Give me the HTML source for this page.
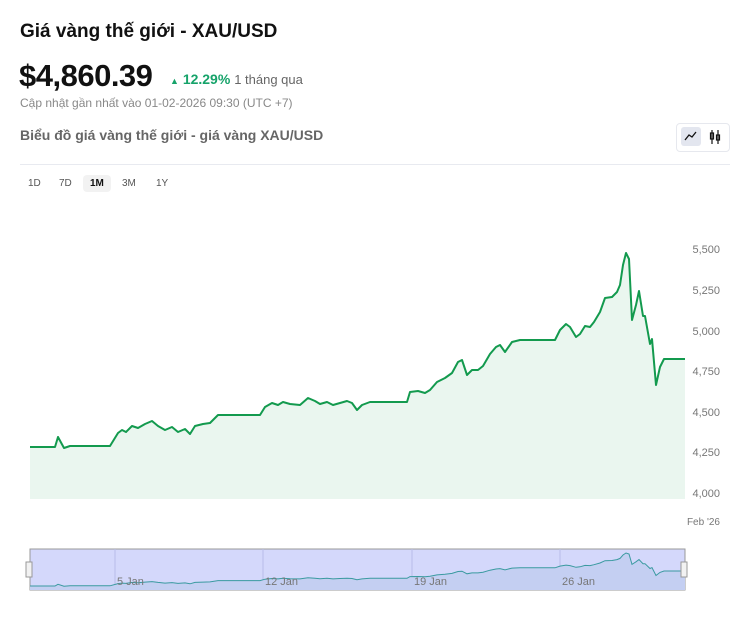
<!DOCTYPE html><html><head><meta charset="utf-8"><style>
body{margin:0;width:750px;height:634px;background:#fff;font-family:"Liberation Sans","Noto Sans CJK SC",sans-serif;position:relative;overflow:hidden}
.a{position:absolute;white-space:nowrap}
</style></head><body>
<div class="a" style="left:20px;top:21px;font-size:19px;font-weight:bold;color:#111">Giá vàng thế giới - XAU/USD</div>
<div class="a" style="left:19px;top:58px;font-size:31px;font-weight:bold;color:#111;letter-spacing:-0.5px">$4,860.39</div>
<div class="a" style="left:170px;top:71px;font-size:14px;color:#16a36a"><span style="font-size:9px">▲</span> <b>12.29%</b> <span style="color:#666;font-size:13px">1 tháng qua</span></div>
<div class="a" style="left:20px;top:96px;font-size:12px;color:#888">Cập nhật gần nhất vào 01-02-2026 09:30 (UTC +7)</div>
<div class="a" style="left:20px;top:127px;font-size:14px;color:#666;font-weight:bold">Biểu đồ giá vàng thế giới - giá vàng XAU/USD</div>
<div class="a" style="left:676px;top:123px;width:52px;height:27px;border:1px solid #e6e8ee;border-radius:4px"></div>
<div class="a" style="left:681px;top:127px;width:20px;height:19px;background:#e3e6ef;border-radius:3px"></div>
<svg class="a" style="left:0;top:0" width="750" height="634">
<path d="M685,140 L689,135 L692,137 L696,132" fill="none" stroke="#111" stroke-width="1.3"/>
<g stroke="#111" stroke-width="1.2" fill="none"><line x1="712" y1="130" x2="712" y2="144"/><rect x="710.5" y="133" width="3" height="6"/><line x1="718" y1="130" x2="718" y2="144"/><rect x="716.5" y="135" width="3" height="5"/></g>
<line x1="20" y1="164.5" x2="730" y2="164.5" stroke="#e8eaf0"/>
<g font-size="11" fill="#777" text-anchor="end" font-family="Liberation Sans">
<text x="720" y="253">5,500</text><text x="720" y="294">5,250</text><text x="720" y="335">5,000</text><text x="720" y="375">4,750</text><text x="720" y="416">4,500</text><text x="720" y="456">4,250</text><text x="720" y="497">4,000</text>
<text x="720" y="525" font-size="10">Feb '26</text></g>
<path id="fill" fill="#eaf6ef"/><path id="line" fill="none" stroke="#139a4e" stroke-width="2" stroke-linejoin="round"/>
<rect x="30" y="549" width="655" height="41" fill="#d4d8fb" stroke="#999" stroke-width="1"/>
<g stroke="#b8bde8" stroke-width="1"><line x1="115" y1="549" x2="115" y2="590"/><line x1="263" y1="549" x2="263" y2="590"/><line x1="412" y1="549" x2="412" y2="590"/><line x1="560" y1="549" x2="560" y2="590"/></g>
<path id="nfill" fill="#c4cff2"/><path id="nline" fill="none" stroke="#3a9aa0" stroke-width="1"/>
<g font-size="11" fill="#777" font-family="Liberation Sans"><text x="117" y="585">5 Jan</text><text x="265" y="585">12 Jan</text><text x="414" y="585">19 Jan</text><text x="562" y="585">26 Jan</text></g>
<rect x="26" y="562" width="6" height="15" fill="#f2f2f2" stroke="#999"/><rect x="681" y="562" width="6" height="15" fill="#f2f2f2" stroke="#999"/>
</svg>
<div class="a" style="left:83px;top:175px;width:28px;height:17px;background:#f2f2f2;border-radius:4px"></div>
<div class="a" style="top:178px;font-size:10px;color:#555;left:28px">1D</div>
<div class="a" style="top:178px;font-size:10px;color:#555;left:59px">7D</div>
<div class="a" style="top:178px;font-size:10px;color:#111;font-weight:bold;left:90px">1M</div>
<div class="a" style="top:178px;font-size:10px;color:#555;left:122px">3M</div>
<div class="a" style="top:178px;font-size:10px;color:#555;left:156px">1Y</div>
<script>
var p=[[30,447],[55,447],[58,437],[64,448],[70,446],[110,446],[118,433],[122,430],[126,432],[132,426],[138,428],[145,424],[152,421],[158,426],[165,430],[172,427],[178,432],[185,429],[190,434],[195,426],[203,424],[210,423],[218,415],[260,415],[265,407],[272,403],[278,405],[283,402],[290,404],[300,405],[308,398],[315,401],[320,404],[327,402],[333,405],[340,403],[347,401],[352,403],[357,410],[362,405],[370,402],[407,402],[410,392],[418,391],[425,393],[430,390],[437,382],[445,378],[452,373],[458,362],[462,360],[467,375],[472,370],[478,370],[483,366],[490,354],[496,347],[500,345],[505,352],[512,342],[520,340],[555,340],[560,330],[566,324],[570,327],[576,337],[580,334],[585,326],[590,327],[594,322],[600,312],[605,298],[612,297],[617,292],[620,285],[623,265],[626,253],[629,259],[632,320],[636,305],[639,291],[643,316],[645,316],[650,344],[652,339],[656,385],[660,367],[664,359],[685,359]];
var d=p.map(function(q,i){return(i?'L':'M')+q[0]+','+q[1]}).join('');
document.getElementById('line').setAttribute('d',d);
document.getElementById('fill').setAttribute('d',d+'L685,499L30,499Z');
var n=p.map(function(q,i){return(i?'L':'M')+q[0]+','+(553+(q[1]-253)*33/194).toFixed(1)}).join('');
document.getElementById('nline').setAttribute('d',n);
document.getElementById('nfill').setAttribute('d',n+'L685,590L30,590Z');
</script>
</body></html>
